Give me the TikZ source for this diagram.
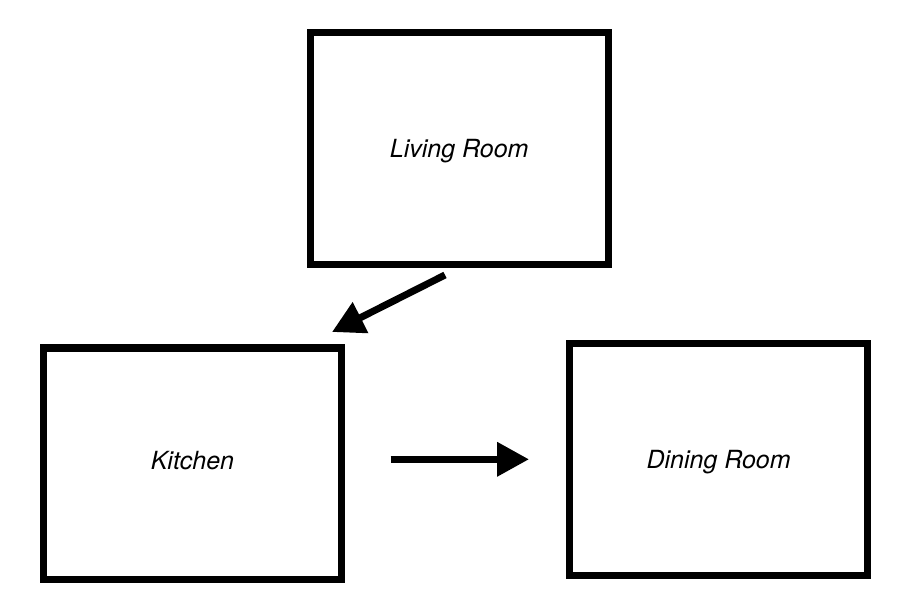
\documentclass[tikz,border=0pt]{standalone}
\usepackage{fontspec}
\setmainfont{TeX Gyre Heros}
\usetikzlibrary{arrows.meta,positioning}
\tikzset{room/.style={draw,
                      rectangle,
                      line width=7bp,
                      outer sep=0pt,
                      inner sep=0pt,
                      minimum width=298.5bp,
                      minimum height=231.5bp,
                      font=\fontsize{25bp}{30bp}\selectfont\itshape,
                      text height=18bp,
                      text depth=0pt},
         flow/.style={line width=7bp,
                      -{Triangle[length=32bp,width=33bp]}}}

\begin{document}
\begin{tikzpicture}[x=1bp,y=-1bp]
    \useasboundingbox (0,0) rectangle (900,606);
    % We start by placing the rooms
    \node [room] (Living) at (459.25,148.75) {Living Room};
    \node [room, text depth=7bp] (Kitchen) at (192.4,463.75) {Kitchen};
    \node [room] (Dining) at (718.6,459.3) {Dining Room};
    % free ends of the arrows between the rooms
    \coordinate (from living) at (445,275);
    \coordinate (to kitchen) at (332,332);
    \coordinate (from kitchen) at (390.7,459.3);
    \coordinate (to dining) at (529,459.3);
    % We draw the arrows from room to room
    \draw [flow] (from living) -- (to kitchen);
    \draw [flow] (from kitchen) -- (to dining);
\end{tikzpicture}
\end{document}
